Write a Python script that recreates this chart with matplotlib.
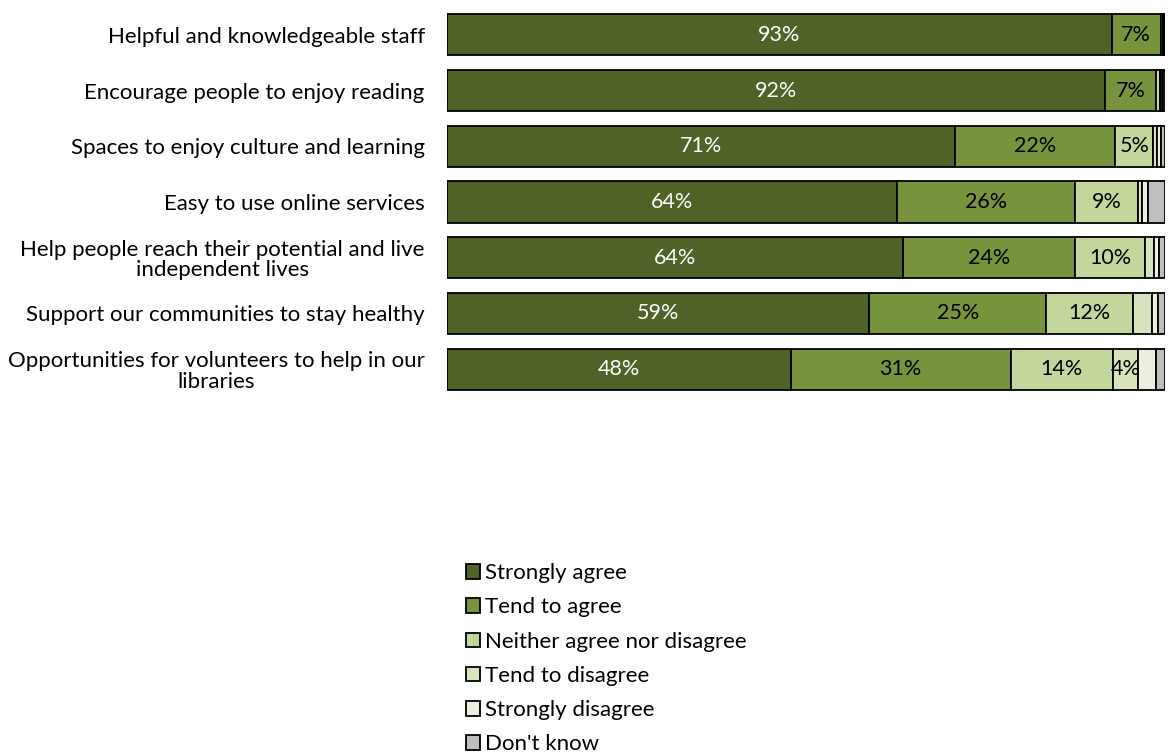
import numpy as np
import matplotlib
matplotlib.use('Agg')
from matplotlib import pyplot as plt
from matplotlib.patches import Patch

plt.rcParams['font.family'] = ['Lato', 'DejaVu Sans']

# data (percent of respondents)
categories = ['Helpful and knowledgeable staff',
              'Encourage people to enjoy reading',
              'Spaces to enjoy culture and learning',
              'Easy to use online services',
              'Help people reach their potential and live\nindependent lives',
              'Support our communities to stay healthy',
              'Opportunities for volunteers to help in our\nlibraries']
responses = ['Strongly agree', 'Tend to agree', 'Neither agree nor disagree',
             'Tend to disagree', 'Strongly disagree', "Don't know"]

strongly_agree = [92.6, 91.6, 70.8, 62.7, 63.5, 58.8, 47.9]
tend_agree = [6.8, 7.2, 22.3, 24.8, 24.0, 24.7, 30.6]
neither = [0.3, 0.5, 5.3, 8.8, 9.7, 12.0, 14.2]
tend_disagree = [0.1, 0.2, 0.5, 0.5, 1.3, 2.7, 3.6]
strongly_disagree = [0.1, 0.2, 0.5, 0.8, 0.7, 0.8, 2.4]
dont_know = [0.1, 0.3, 0.6, 2.4, 0.8, 1.0, 1.3]

# labels as printed on the bars ('' = not shown)
lab_sa = ['93%', '92%', '71%', '64%', '64%', '59%', '48%']
lab_ta = ['7%', '7%', '22%', '26%', '24%', '25%', '31%']
lab_ne = ['', '', '5%', '9%', '10%', '12%', '14%']
lab_td = ['', '', '', '', '', '', '4%']

series = [strongly_agree, tend_agree, neither, tend_disagree, strongly_disagree, dont_know]
labels = [lab_sa, lab_ta, lab_ne, lab_td, None, None]
colors = ['#4f6228', '#77933c', '#c3d69b', '#d7e4bd', '#ebf1de', '#bfbfbf']
text_colors = ['white', 'black', 'black', 'black', 'black', 'black']

fig = plt.figure(figsize=(11.71, 7.53), dpi=100)
ax = fig.add_axes([0.3817, 0.4728, 0.6131, 0.518])

y = np.arange(len(categories))
left = np.zeros(len(categories))
for vals, labs, col, tcol in zip(series, labels, colors, text_colors):
    vals = np.array(vals)
    ax.barh(y, vals, left=left, height=0.74, color=col,
            edgecolor='black', linewidth=1.3)
    if labs is not None:
        for i, t in enumerate(labs):
            if t:
                ax.text(left[i] + vals[i] / 2, y[i], t, ha='center', va='center',
                        fontsize=15.5, color=tcol)
    left += vals

ax.set_xlim(0, 100)
ax.set_ylim(len(categories) - 0.5, -0.5)
ax.set_yticks(y)
ax.set_yticklabels(categories, fontsize=16, multialignment='center', linespacing=1.05)
ax.tick_params(axis='y', length=0, pad=16)
ax.set_xticks([])
for s in ax.spines.values():
    s.set_visible(False)

handles = [Patch(facecolor=c, edgecolor='black', linewidth=1.3) for c in colors]
fig.legend(handles, responses, loc='upper left', bbox_to_anchor=(0.398, 0.252),
           frameon=False, fontsize=16, handlelength=0.62, handleheight=0.62,
           handletextpad=0.25, labelspacing=0.64, borderaxespad=0, borderpad=0)

fig.savefig('out.png', dpi=100)
